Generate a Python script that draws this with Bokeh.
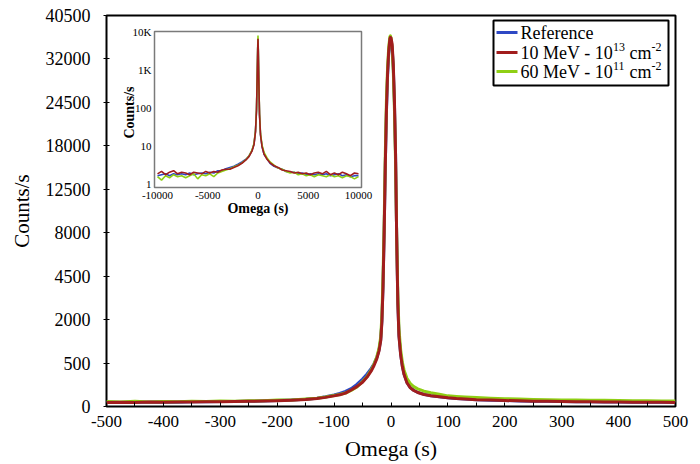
import numpy as np
from bokeh.plotting import figure
from bokeh.models import FixedTicker, Label, Range1d, BoxAnnotation, LogScale
from bokeh.core.properties import value
from bokeh.embed import file_html
from bokeh.resources import INLINE

FONT = "Liberation Serif"
BLUE = "#2E48C4"
RED = "#A11D1D"
GREEN = "#8FCF14"

# ---------------- main chart data ----------------
main_x = [-500, -475, -450, -425, -400, -375, -350, -325, -300, -275, -250, -225, -200, -175, -150,
          -130, -115, -100, -90, -80, -70, -60, -50, -42, -35, -30, -25, -21, -18, -16, -14, -12,
          -10, -8, -6, -4, -2, -1, 0, 2, 4, 6, 8, 10, 12, 14, 17, 20, 23, 28, 34, 40, 47, 58, 70,
          85, 100, 115, 130, 150, 175, 200, 225, 250, 275, 300, 325, 350, 375, 400, 425, 450, 475, 500]

reference_main = [5, 4.5, 5, 5, 5.5, 5, 5.8, 5.8, 6.3, 6.5, 7.2, 8, 9.5, 11, 14,
                  18.5, 25, 35, 45, 60, 85, 130, 200, 280, 380, 480, 630, 850, 1200, 1950, 3900, 8100,
                  15500, 23000, 29000, 33000, 35200, 35500, 35400, 34200, 30500, 24500, 16800, 7600, 2900, 1350, 720, 430, 275, 155, 95, 70, 53, 39, 31,
                  25.5, 20.5, 17, 14.5, 12.5, 10.5, 9.5, 8.3, 7.6, 7, 6.4, 6, 5.7, 5.4, 5.2, 5, 4.9, 4.7, 4.6]

mev10_main = [4.5, 5, 4.5, 5.2, 5, 5.5, 5.3, 6, 6, 6.5, 7, 7.8, 9, 10.5, 13,
              17, 22, 30, 36, 47, 72, 105, 155, 230, 330, 440, 600, 820, 1150, 1900, 3800, 8000,
              15500, 23500, 29500, 33500, 35800, 36100, 36000, 34800, 31000, 25000, 17000, 7500, 2800, 1300, 700, 420, 270, 150, 92, 68, 52, 38, 31,
              25, 20, 17, 15, 12.5, 11, 9.5, 8.5, 7.5, 7, 6.5, 6, 5.8, 5.5, 5.3, 5, 5, 4.8, 4.5]

mev60_main = [6.5, 5.5, 7, 5.5, 6.5, 6, 7.5, 6.5, 8, 7, 9, 8.5, 11, 11.5, 15,
              18, 24, 32, 38, 48, 68, 100, 165, 240, 350, 470, 650, 900, 1300, 2200, 4500, 9000,
              17000, 25000, 30500, 34200, 36200, 36400, 36000, 34000, 29800, 23500, 15800, 7800, 3300, 1600, 850, 520, 350, 210, 140, 105, 82, 62, 50,
              40, 30, 27, 24, 21, 18, 16, 14.5, 13, 12, 11.5, 11, 10.5, 10, 9.5, 9, 8.5, 8, 8]

main_y_tick_labels = [0, 500, 2000, 4500, 8000, 12500, 18000, 24500, 32000, 40500]
main_x_ticks = [-500, -400, -300, -200, -100, 0, 100, 200, 300, 400, 500]
main_x_minor = [-450, -350, -250, -150, -50, 50, 150, 250, 350, 450]

# ---------------- inset data ----------------
inset_x = [-10000, -9600, -9200, -8800, -8400, -8000, -7600, -7200, -6800, -6400, -6000, -5600, -5200,
           -4800, -4400, -4000, -3600, -3200, -2800, -2400, -2000, -1600, -1200, -900, -600, -400, -250,
           -150, -80, -30, 0, 30, 80, 150, 250, 400, 600, 900, 1200, 1600, 2000, 2400, 2800, 3200, 3600,
           4000, 4400, 4800, 5200, 5600, 6000, 6400, 6800, 7200, 7600, 8000, 8400, 8800, 9200, 9600, 10000]

reference_inset = [1.7, 1.8, 1.9, 1.7, 1.9, 1.8, 1.9, 1.8, 2.0, 1.8, 1.9, 2.0, 1.9,
                   2.1, 2.0, 2.3, 2.3, 2.6, 2.8, 3.0, 3.4, 3.9, 4.6, 5.6, 7.8, 11.5, 25,
                   85, 650, 3500, 6600, 3200, 520, 68, 20, 10, 6.2, 4.7, 3.6, 3.0, 2.7, 2.5, 2.2, 2.1, 2.1,
                   1.9, 2.0, 1.8, 1.9, 1.8, 1.9, 1.8, 1.9, 1.7, 1.8, 1.9, 1.7, 1.8, 1.6, 1.7, 1.7]

mev10_inset = [1.9, 2.2, 1.8, 2.1, 2.3, 1.9, 2.1, 2.0, 1.8, 2.1, 2.0, 1.9, 2.2,
               2.0, 2.2, 2.1, 2.4, 2.5, 2.5, 2.8, 3.1, 3.6, 4.4, 5.4, 7.5, 11, 24,
               90, 700, 3600, 6800, 3300, 550, 70, 20, 10, 6.3, 4.6, 3.7, 3.1, 2.8, 2.4, 2.3, 2.2, 2.0,
               2.1, 1.9, 2.0, 1.8, 2.0, 2.1, 1.9, 2.2, 1.8, 2.0, 1.8, 2.1, 1.9, 1.7, 2.0, 1.9]

mev60_inset = [1.6, 1.3, 1.7, 1.5, 1.8, 1.6, 1.7, 1.5, 1.7, 1.9, 1.4, 1.8, 1.7,
               1.9, 1.6, 2.0, 2.2, 2.4, 2.6, 2.9, 3.2, 3.7, 4.5, 5.6, 8.0, 12, 26,
               95, 800, 4200, 8300, 3800, 600, 75, 22, 11, 7.0, 5.0, 3.9, 3.2, 2.7, 2.5, 2.2, 2.0, 2.1,
               1.8, 1.9, 1.7, 1.8, 1.6, 1.8, 1.7, 1.6, 1.8, 1.6, 1.7, 1.5, 1.7, 1.6, 1.4, 1.6]

inset_x_ticks = [-10000, -5000, 0, 5000, 10000]
inset_x_labels = ["-10000", "-5000", "0", "5000", "10000"]
inset_y_ticks = [1, 10, 100, 1000, 10000]
inset_y_labels = ["1", "10", "100", "1K", "10K"]

series_names = ["Reference", "10 MeV - 10", "60 MeV - 10"]
series_sup = ["", "13", "11"]

# ---------------- layout constants (pixels) ----------------
W, H = 698, 463
FL, FT, FR, FB = 106, 15, 675, 406          # main frame edges
FRAME_W = FR - FL
FRAME_H = FB - FT
IL, IT, IR, IB = 154, 31, 361, 187          # inset frame edges

X0, X1 = main_x_ticks[0], main_x_ticks[-1]
YTOP = float(np.sqrt(main_y_tick_labels[-1]))

p = figure(width=W, height=H, output_backend="svg", toolbar_location=None,
           x_range=Range1d(X0, X1), y_range=Range1d(0, YTOP),
           min_border_left=FL, min_border_right=W - FR, min_border_top=FT, min_border_bottom=H - FB)
p.background_fill_color = "white"
p.border_fill_color = "white"
p.outline_line_color = "black"
p.outline_line_width = 2
p.grid.visible = False

p.xaxis.ticker = FixedTicker(ticks=main_x_ticks, minor_ticks=main_x_minor)
p.xaxis.major_label_overrides = {t: str(t) for t in main_x_ticks}
p.xaxis.axis_line_color = None
p.xaxis.major_tick_in = 4
p.xaxis.major_tick_out = 0
p.xaxis.minor_tick_in = 4
p.xaxis.minor_tick_out = 0
p.xaxis.major_tick_line_color = "black"
p.xaxis.minor_tick_line_color = "black"
p.xaxis.major_label_standoff = 9
p.xaxis.axis_label = "Omega (s)"
p.xaxis.axis_label_standoff = 6
p.xaxis.major_label_text_font_size = "17px"
p.xaxis.axis_label_text_font_size = "22px"

ytick_pos = [float(np.sqrt(v)) for v in main_y_tick_labels]
p.yaxis.ticker = FixedTicker(ticks=ytick_pos)
p.yaxis.major_label_overrides = {t: str(v) for t, v in zip(ytick_pos, main_y_tick_labels)}
p.yaxis.axis_line_color = None
p.yaxis.major_tick_in = 3
p.yaxis.major_tick_out = 3
p.yaxis.minor_tick_line_color = None
p.yaxis.major_tick_line_color = "black"
p.yaxis.major_label_standoff = 13
p.yaxis.axis_label = "Counts/s"
p.yaxis.axis_label_standoff = 9
p.yaxis.major_label_text_font_size = "18px"
p.yaxis.axis_label_text_font_size = "21px"

for ax in (p.xaxis[0], p.yaxis[0]):
    ax.major_label_text_font = FONT
    ax.major_label_text_color = "black"
    ax.axis_label_text_font = FONT
    ax.axis_label_text_font_style = "normal"
    ax.axis_label_text_color = "black"

for vals, col in ((reference_main, BLUE), (mev60_main, GREEN), (mev10_main, RED)):
    p.line(main_x, np.sqrt(np.array(vals, dtype=float)), line_color=col, line_width=3,
           line_join="round")

# ---------------- inset, drawn on extra ranges of the same figure ----------------
IX0, IX1 = -10300, 10300
IY0, IY1 = 0.83, 10600
ix_pp = (IX1 - IX0) / (IR - IL)
ly0, ly1 = np.log10(IY0), np.log10(IY1)
l_pp = (ly1 - ly0) / (IB - IT)
p.extra_x_ranges = {"ix": Range1d(IX0 - (IL - FL) * ix_pp, IX1 + (FR - IR) * ix_pp)}
p.extra_y_ranges = {"iy": Range1d(10 ** (ly0 - (FB - IB) * l_pp), 10 ** (ly1 + (IT - FT) * l_pp))}
p.extra_y_scales = {"iy": LogScale()}

def iy_px(dy):
    """inset y value located dy pixels below the inset's bottom edge"""
    return 10 ** (ly0 - dy * l_pp)

p.quad(left=[IX0], right=[IX1], bottom=[IY0], top=[IY1], fill_color="white",
       line_color="#7a7a7a", line_width=1.5, x_range_name="ix", y_range_name="iy")
for vals, col in ((reference_inset, BLUE), (mev60_inset, GREEN), (mev10_inset, RED)):
    p.line(inset_x, vals, line_color=col, line_width=1.6, x_range_name="ix", y_range_name="iy")

p.text(x=inset_x_ticks, y=[iy_px(8)] * len(inset_x_ticks), text=inset_x_labels,
       text_font=value(FONT), text_font_size="11px", text_align="center", text_baseline="middle",
       text_color="black", x_range_name="ix", y_range_name="iy")
p.text(x=[IX0 - 3 * ix_pp] * len(inset_y_ticks), y=inset_y_ticks, text=inset_y_labels,
       text_font=value(FONT), text_font_size="11px", text_align="right", text_baseline="middle",
       text_color="black", x_range_name="ix", y_range_name="iy")
p.text(x=[0], y=[iy_px(21)], text=["Omega (s)"], text_font=value(FONT), text_font_size="14px",
       text_font_style="bold", text_align="center", text_baseline="middle", text_color="black",
       x_range_name="ix", y_range_name="iy")
p.text(x=[IX0 - 25 * ix_pp], y=[10 ** (ly0 + (IB - 112) * l_pp)], text=["Counts/s"],
       angle=np.pi / 2, text_font=value(FONT), text_font_size="14px", text_font_style="bold",
       text_align="center", text_baseline="middle", text_color="black",
       x_range_name="ix", y_range_name="iy")

# ---------------- legend (built by hand for superscripts) ----------------
def fx(px):
    return X0 + (px - FL) * (X1 - X0) / FRAME_W

def fy(py):
    return YTOP - (py - FT) * YTOP / FRAME_H

p.add_layout(BoxAnnotation(left=fx(493), right=fx(668), top=fy(20), bottom=fy(85),
                           fill_color="white", fill_alpha=1, line_color="black", line_alpha=1,
                           line_width=2, level="underlay"))
rows = [32, 52, 71]
cols = [BLUE, RED, GREEN]
p.segment(x0=[fx(496)] * 3, x1=[fx(517)] * 3, y0=[fy(r) for r in rows], y1=[fy(r) for r in rows],
          line_color=cols, line_width=3)
tx = 520
main_w = 92.5
for name, sup, r in zip(series_names, series_sup, rows):
    p.add_layout(Label(x=fx(tx), y=fy(r), text=name, text_font=FONT, text_font_size="18px",
                       text_baseline="middle", text_color="black"))
    if sup:
        p.add_layout(Label(x=fx(tx + main_w), y=fy(r - 6), text=sup, text_font=FONT,
                           text_font_size="12px", text_baseline="middle", text_color="black"))
        p.add_layout(Label(x=fx(tx + main_w + 12 + 4.5), y=fy(r), text="cm", text_font=FONT,
                           text_font_size="18px", text_baseline="middle", text_color="black"))
        p.add_layout(Label(x=fx(tx + main_w + 12 + 4.5 + 22), y=fy(r - 6), text="-2",
                           text_font=FONT, text_font_size="12px", text_baseline="middle",
                           text_color="black"))

open("out.html", "w").write(file_html(p, INLINE))
